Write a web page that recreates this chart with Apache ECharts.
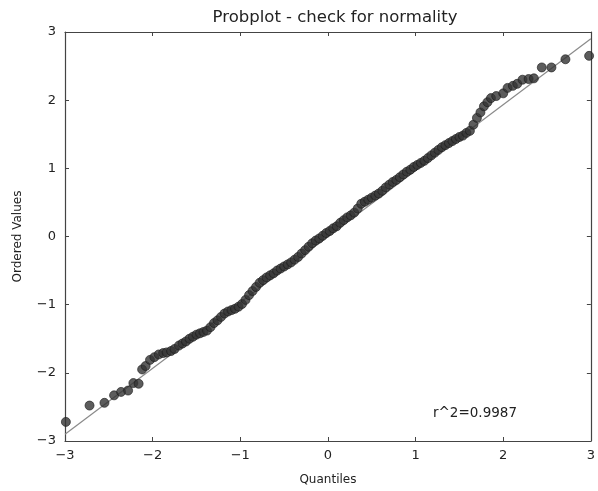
<!DOCTYPE html>
<html>
<head>
<meta charset="utf-8">
<script src="https://cdn.jsdelivr.net/npm/echarts@6/dist/echarts.min.js"></script>
<style>
  html, body { margin: 0; padding: 0; background: #fff; }
  #chart { width: 598px; height: 491px; }
</style>
</head>
<body>
<div id="chart"></div>
<script>
(() => {
    const TITLE = "Probplot - check for normality";
    const R2_TEXT = "r^2=0.9987";

    // theoretical quantiles (x) and ordered sample values (y)
    const quantiles = [
        -2.99, -2.72, -2.55, -2.44, -2.36, -2.28, -2.22, -2.16, -2.12, -2.08, -2.03,
        -1.98, -1.93, -1.88, -1.84, -1.79, -1.75, -1.70, -1.66, -1.62, -1.58, -1.54,
        -1.50, -1.46, -1.42, -1.38, -1.34, -1.30, -1.26, -1.22, -1.18, -1.14, -1.10,
        -1.06, -1.02, -0.98, -0.94, -0.90, -0.86, -0.82, -0.78, -0.74, -0.70, -0.66,
        -0.62, -0.58, -0.54, -0.50, -0.46, -0.42, -0.38, -0.34, -0.30, -0.26, -0.22,
        -0.18, -0.14, -0.10, -0.06, -0.02, 0.02, 0.06, 0.10, 0.14, 0.18, 0.22,
        0.26, 0.30, 0.34, 0.38, 0.42, 0.46, 0.50, 0.54, 0.58, 0.62, 0.66,
        0.70, 0.74, 0.78, 0.82, 0.86, 0.90, 0.94, 0.98, 1.02, 1.06, 1.10,
        1.14, 1.18, 1.22, 1.26, 1.30, 1.34, 1.38, 1.42, 1.46, 1.50, 1.54,
        1.58, 1.62, 1.66, 1.70, 1.74, 1.78, 1.82, 1.86, 1.92, 2.00, 2.05,
        2.11, 2.16, 2.22, 2.29, 2.35, 2.44, 2.55, 2.71, 2.98
    ];
    const orderedValues = [
        -2.72, -2.48, -2.44, -2.33, -2.28, -2.26, -2.15, -2.16, -1.95, -1.90, -1.81,
        -1.77, -1.73, -1.71, -1.70, -1.68, -1.65, -1.60, -1.57, -1.54, -1.50, -1.47,
        -1.44, -1.42, -1.40, -1.38, -1.33, -1.27, -1.23, -1.18, -1.13, -1.10, -1.08,
        -1.06, -1.03, -0.99, -0.93, -0.86, -0.80, -0.74, -0.68, -0.64, -0.60, -0.57,
        -0.54, -0.50, -0.47, -0.44, -0.41, -0.38, -0.34, -0.30, -0.25, -0.20, -0.15,
        -0.10, -0.06, -0.03, 0.01, 0.05, 0.08, 0.12, 0.15, 0.20, 0.24, 0.28,
        0.31, 0.35, 0.41, 0.48, 0.51, 0.54, 0.57, 0.60, 0.63, 0.67, 0.72,
        0.76, 0.80, 0.83, 0.87, 0.91, 0.95, 0.98, 1.02, 1.05, 1.08, 1.11,
        1.15, 1.19, 1.23, 1.27, 1.31, 1.34, 1.37, 1.40, 1.43, 1.46, 1.48,
        1.52, 1.55, 1.64, 1.74, 1.82, 1.91, 1.97, 2.03, 2.06, 2.10, 2.18,
        2.21, 2.24, 2.30, 2.31, 2.32, 2.48, 2.48, 2.60, 2.65
    ];

    // least squares fit line endpoints
    const fitX = [-3, 3];
    const fitY = [-2.9, 2.9];

    const ticks = [-3, -2, -1, 0, 1, 2, 3];

    const FONT = "DejaVu Sans";
    const minus = v => String(v).replace('-', '\u2212');

    const points = quantiles.map((q, i) => [q, orderedValues[i]]);
    const fit = fitX.map((x, i) => [x, fitY[i]]);

    const axisCommon = {
        type: 'value',
        min: ticks[0],
        max: ticks[ticks.length - 1],
        interval: 1,
        splitLine: { show: false },
        axisLine: { onZero: false, lineStyle: { color: '#444', width: 1.2 } },
        axisTick: { inside: true, length: 4, lineStyle: { color: '#444' } }
    };

    const chart = echarts.init(document.getElementById('chart'));
    chart.setOption({
        animation: false,
        backgroundColor: '#fff',
        title: {
            text: TITLE,
            left: 330,
            top: 4,
            textAlign: 'center',
            textStyle: { fontFamily: FONT, fontSize: 16.5, fontWeight: 'normal', color: '#222' }
        },
        grid: { left: 65, right: 5, top: 32, bottom: 49 },
        xAxis: [
            Object.assign({}, axisCommon, {
                position: 'bottom',
                name: 'Quantiles',
                nameLocation: 'middle',
                nameGap: 33,
                nameTextStyle: { fontFamily: FONT, fontSize: 12, color: '#222' },
                axisLabel: { fontFamily: FONT, fontSize: 13, color: '#222', margin: 8, formatter: minus }
            }),
            Object.assign({}, axisCommon, {
                position: 'top',
                axisLabel: { show: false }
            })
        ],
        yAxis: [
            Object.assign({}, axisCommon, {
                position: 'left',
                name: 'Ordered Values',
                nameLocation: 'middle',
                nameGap: 41,
                nameTextStyle: { fontFamily: FONT, fontSize: 12, color: '#222' },
                axisLabel: { fontFamily: FONT, fontSize: 13, color: '#222', margin: 9, formatter: minus }
            }),
            Object.assign({}, axisCommon, {
                position: 'right',
                axisLabel: { show: false }
            })
        ],
        series: [
            {
                type: 'line',
                data: fit,
                showSymbol: false,
                symbol: 'none',
                lineStyle: { color: '#8a8a8a', width: 1.2 },
                z: 1
            },
            {
                type: 'scatter',
                data: points,
                symbolSize: 9,
                clip: false,
                itemStyle: { color: '#333', borderColor: '#1a1a1a', borderWidth: 0.8 },
                z: 2
            }
        ],
        graphic: [
            {
                type: 'text',
                left: 433,
                top: 406,
                style: { text: R2_TEXT, font: '13.5px "DejaVu Sans"', fill: '#222' }
            }
        ]
    });
})();
</script>
</body>
</html>
